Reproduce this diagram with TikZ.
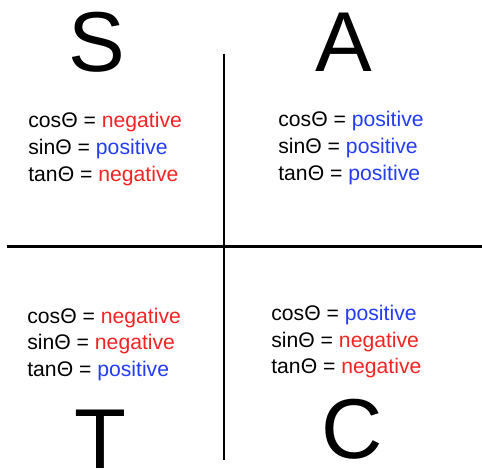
\documentclass[tikz,border=0pt]{standalone}
\usepackage{fontspec}
\setmainfont{Liberation Sans}
\usetikzlibrary{positioning}
\definecolor{cpos}{RGB}{35,60,245}
\definecolor{cneg}{RGB}{245,35,35}
\newcommand{\posv}{\textcolor{cpos}{positive}}
\newcommand{\negv}{\textcolor{cneg}{negative}}
\tikzset{
  quad/.style={font=\fontsize{51}{51}\selectfont, inner sep=0pt, anchor=base},
  trig/.style={font=\fontsize{12.7}{15}\selectfont, inner sep=0pt, anchor=base west},
  axis/.style={line width=1.5pt}
}

\begin{document}
\begin{tikzpicture}[x=0.6pt, y=-0.6pt]
  \useasboundingbox (0,0) rectangle (482,469);
  % axes
  \coordinate (top) at (224,54);
  \coordinate (bot) at (224,460);
  \coordinate (lft) at (7,246.5);
  \coordinate (rgt) at (482,246.5);
  \draw[axis] (top) -- (bot);
  \draw[axis] (lft) -- (rgt);
  % quadrant letters
  \node[quad] (S) at (97,72) {S};
  \node[quad] (A) at (344,72) {A};
  \node[quad] (T) at (100,468) {T};
  \node[quad] (C) at (352,458) {C};
  % signs, second quadrant
  \foreach \fn/\val [count=\i] in {cos/\negv, sin/\posv, tan/\negv}
    \node[trig] (s\i) at (28,{128+26.5*(\i-1)}) {\fn Θ = \val};
  % first quadrant
  \foreach \fn/\val [count=\i] in {cos/\posv, sin/\posv, tan/\posv}
    \node[trig] (a\i) at (278,{127+26.5*(\i-1)}) {\fn Θ = \val};
  % third quadrant
  \foreach \fn/\val [count=\i] in {cos/\negv, sin/\negv, tan/\posv}
    \node[trig] (t\i) at (27,{323+26.5*(\i-1)}) {\fn Θ = \val};
  % fourth quadrant
  \foreach \fn/\val [count=\i] in {cos/\posv, sin/\negv, tan/\negv}
    \node[trig] (c\i) at (271,{320.5+26.5*(\i-1)}) {\fn Θ = \val};
\end{tikzpicture}
\end{document}
